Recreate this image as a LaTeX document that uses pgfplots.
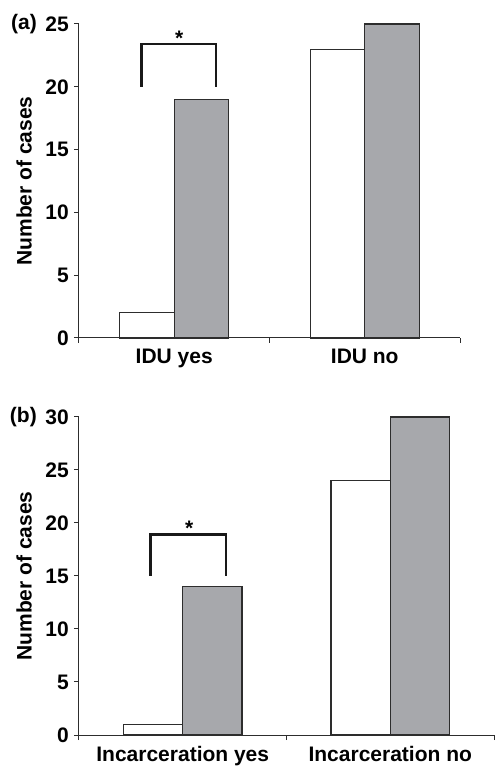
\documentclass[border=0pt]{standalone}
\usepackage{fontspec}
\setmainfont{Liberation Sans}
\usepackage{pgfplots}
\pgfplotsset{compat=1.18}
\definecolor{barGray}{RGB}{167,168,172}
\definecolor{lineDark}{RGB}{45,45,45}
\newcommand{\bigf}{\fontsize{21}{25}\selectfont\bfseries}
\pgfplotsset{
  panel/.style={
    scale only axis,
    anchor=south west,
    axis lines=left,
    axis line style={-, draw=lineDark, line width=1pt},
    tick align=outside,
    major tick length=5pt,
    tick style={draw=lineDark, line width=1pt},
    xmin=-0.5, xmax=1.5,
    ymin=0,
    xtick={-0.5,0.5,1.5},
    xticklabels={,,},
    extra x tick style={major tick length=0pt, tick label style={yshift=-6pt}},
    tick label style={font=\bigf, inner sep=5pt},
    /pgf/number format/assume math mode=true,
    ylabel={Number of cases},
    ylabel style={font=\bigf, at={(axis description cs:0,0.5)}, anchor=south, inner sep=0pt, yshift=47pt},
    clip=false,
  },
  whitebar/.style={ybar, bar width=0.286, bar shift=-0.143, fill=white, draw=lineDark, line width=1.2pt},
  graybar/.style={ybar, bar width=0.286, bar shift=0.143, fill=barGray, draw=lineDark, line width=1.2pt},
  bracket/.style={draw=black!90, line width=2.5pt, mark=none, line join=miter},
}
\begin{document}
\begin{tikzpicture}
\useasboundingbox (0,0) rectangle (498pt,766pt);
% Panel (a)
\begin{axis}[panel,
  at={(79pt,428pt)},
  width=381pt, height=314pt,
  ymax=25, ytick={0,5,10,15,20,25},
  extra x ticks={0,1},
  extra x tick labels={IDU yes,IDU no},
]
\addplot[whitebar] coordinates {(0,2) (1,23)};
\addplot[graybar] coordinates {(0,19) (1,25)};
\addplot[bracket] coordinates {(-0.173,20) (-0.173,23.4) (0.22,23.4) (0.22,20)};
\node[font=\bigf, anchor=base, inner sep=0pt] at (axis cs:0.026,23.3) {*};
\node[font=\bigf, anchor=east, inner sep=0pt] at (axis description cs:0,1) [xshift=-42pt] {(a)};
\end{axis}
% Panel (b)
\begin{axis}[panel,
  at={(79pt,31pt)},
  width=415pt, height=318pt,
  ymax=30, ytick={0,5,10,15,20,25,30},
  extra x ticks={0,1},
  extra x tick labels={Incarceration yes,Incarceration no},
]
\addplot[whitebar] coordinates {(0,1) (1,24)};
\addplot[graybar] coordinates {(0,14) (1,30)};
\addplot[bracket] coordinates {(-0.156,15) (-0.156,18.9) (0.208,18.9) (0.208,15)};
\node[font=\bigf, anchor=base, inner sep=0pt] at (axis cs:0.031,18.83) {*};
\node[font=\bigf, anchor=east, inner sep=0pt] at (axis description cs:0,1) [xshift=-42pt] {(b)};
\end{axis}
\end{tikzpicture}
\end{document}
